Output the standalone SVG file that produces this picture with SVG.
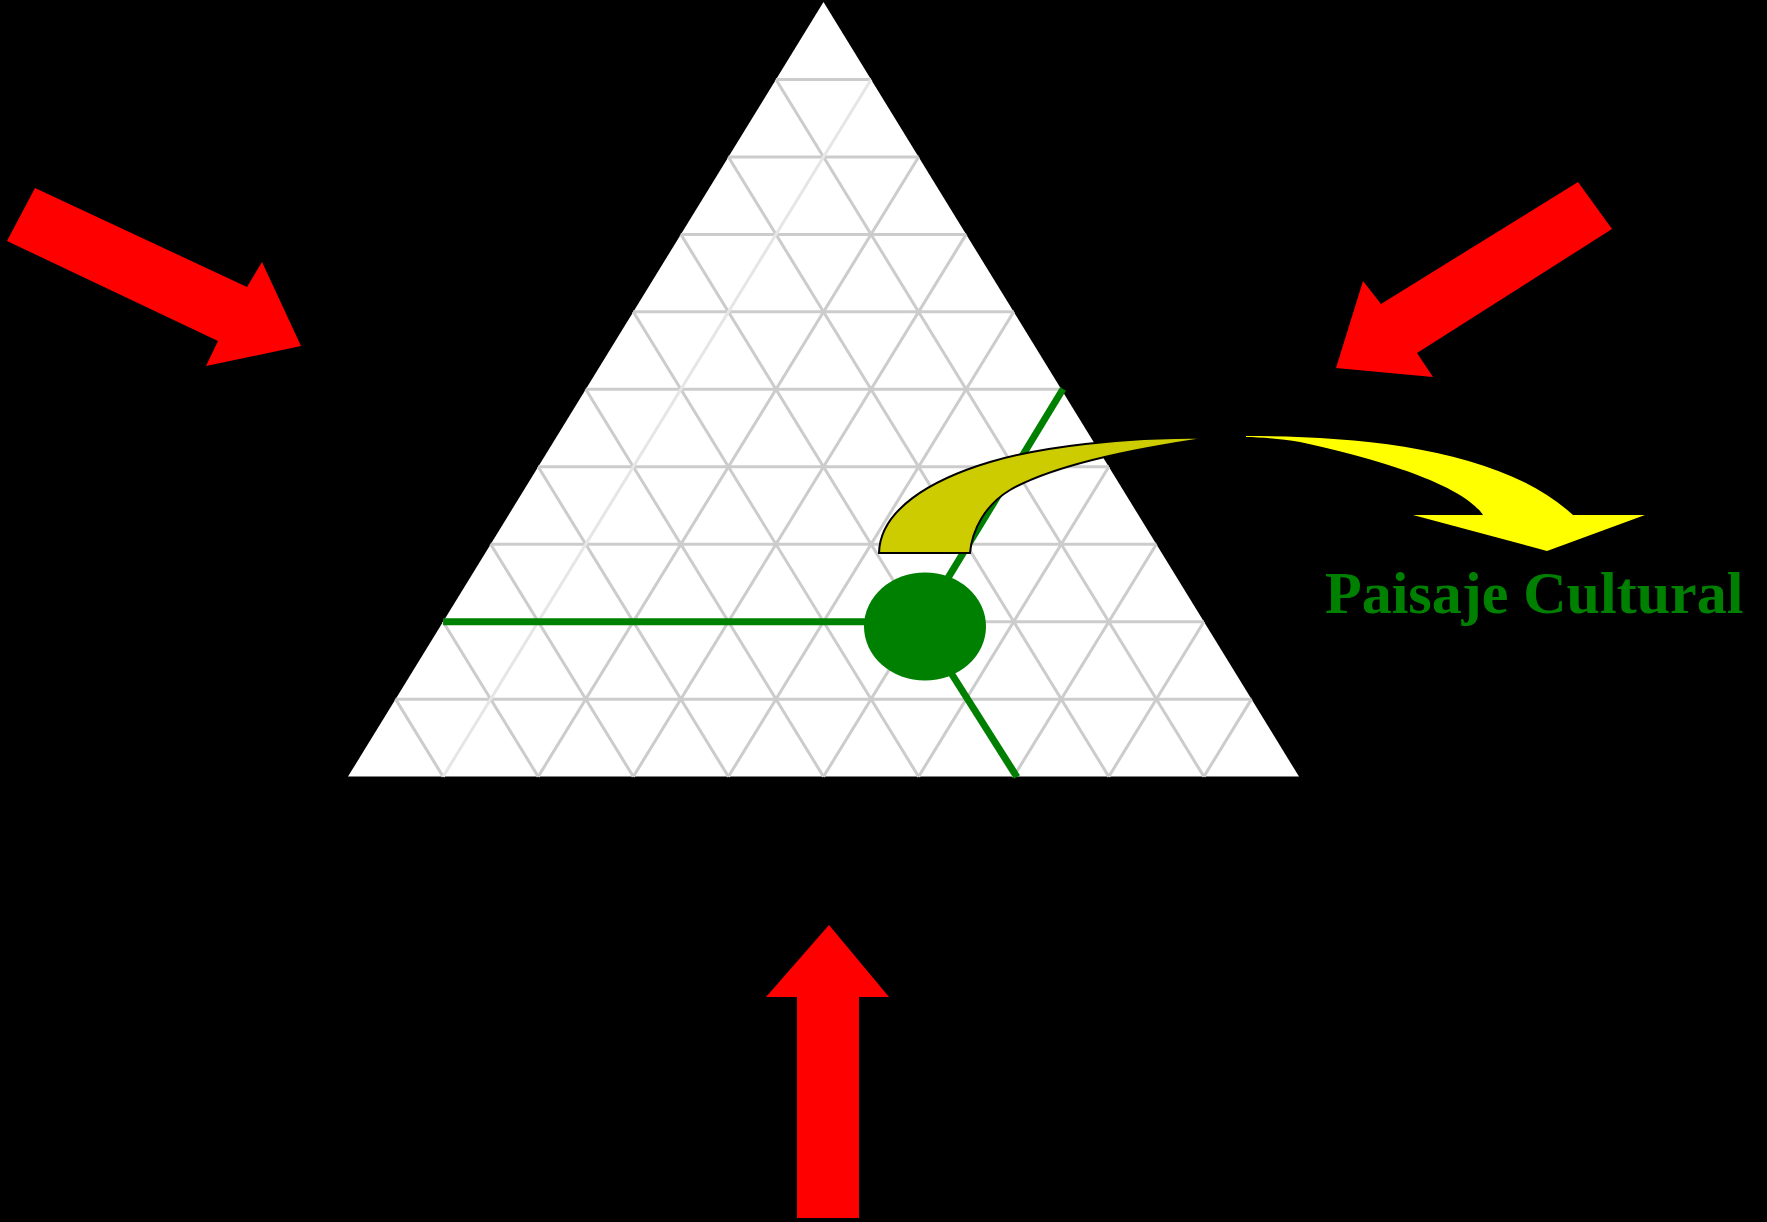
<svg xmlns="http://www.w3.org/2000/svg" width="1767" height="1222" viewBox="0 0 1767 1222">
<style>
.grid{stroke:#cccccc;stroke-width:3;fill:none}
.grid2{stroke:#e6e6e6;stroke-width:3;fill:none}
.red{fill:#ff0000}
.gline{stroke:#008000;stroke-width:7;fill:none}
.label{font-family:"Liberation Serif","Times New Roman",serif;font-weight:bold;font-size:60px;fill:#008000}
</style>
<rect x="0" y="0" width="1767" height="1222" fill="#000000"/>
<g id="triangle">
<polygon points="823.5,2 1299,776.6 348,776.6" fill="#ffffff"/>
<g class="grid">
<line x1="775.95" y1="79.46" x2="871.05" y2="79.46"/>
<line x1="728.4" y1="156.92" x2="918.6" y2="156.92"/>
<line x1="680.85" y1="234.38" x2="966.15" y2="234.38"/>
<line x1="633.3" y1="311.84" x2="1013.7" y2="311.84"/>
<line x1="585.75" y1="389.3" x2="1061.25" y2="389.3"/>
<line x1="538.2" y1="466.76" x2="1108.8" y2="466.76"/>
<line x1="490.65" y1="544.22" x2="1156.35" y2="544.22"/>
<line x1="443.1" y1="621.68" x2="1203.9" y2="621.68"/>
<line x1="395.55" y1="699.14" x2="1251.45" y2="699.14"/>
<line x1="918.6" y1="156.92" x2="538.2" y2="776.6"/>
<line x1="966.15" y1="234.38" x2="633.3" y2="776.6"/>
<line x1="1013.7" y1="311.84" x2="728.4" y2="776.6"/>
<line x1="1061.25" y1="389.3" x2="823.5" y2="776.6"/>
<line x1="1108.8" y1="466.76" x2="918.6" y2="776.6"/>
<line x1="1156.35" y1="544.22" x2="1013.7" y2="776.6"/>
<line x1="1203.9" y1="621.68" x2="1108.8" y2="776.6"/>
<line x1="1251.45" y1="699.14" x2="1203.9" y2="776.6"/>
<line x1="775.95" y1="79.46" x2="1203.9" y2="776.6"/>
<line x1="728.4" y1="156.92" x2="1108.8" y2="776.6"/>
<line x1="680.85" y1="234.38" x2="1013.7" y2="776.6"/>
<line x1="633.3" y1="311.84" x2="918.6" y2="776.6"/>
<line x1="585.75" y1="389.3" x2="823.5" y2="776.6"/>
<line x1="538.2" y1="466.76" x2="728.4" y2="776.6"/>
<line x1="490.65" y1="544.22" x2="633.3" y2="776.6"/>
<line x1="443.1" y1="621.68" x2="538.2" y2="776.6"/>
<line x1="395.55" y1="699.14" x2="443.1" y2="776.6"/>
</g>
<line class="grid2" x1="871.05" y1="79.46" x2="443.1" y2="776.6"/>
</g>
<g id="connectors">
<line class="gline" x1="443.1" y1="621.7" x2="925" y2="621.7"/>
<line class="gline" x1="1063" y1="389" x2="920" y2="624"/>
<line class="gline" x1="920" y1="624" x2="1017" y2="777"/>
</g>
<g id="point">
<ellipse cx="925" cy="626.5" rx="61" ry="54" fill="#008000"/>
</g>
<g id="tail">
<path d="M 879,553 L 970,553 C 972,530 985,505 1010,490 C 1045,470 1110,452 1213,437.5 C 1120,437 1040,447 990,462 C 930,480 880,510 879,553 Z" fill="#cccc00" stroke="#000000" stroke-width="2"/>
</g>
<g id="yellow-arrow">
<path d="M 1246,436 C 1360,436 1500,448 1573,515 L 1645,515 L 1547,551 L 1413,515 L 1483,515 C 1470,495 1420,468 1300,442 C 1280,439 1260,437 1246,437 Z" fill="#ffff00"/>
</g>
<g id="arrow-left">
<polygon class="red" points="35,188 7,241 218,341 206,366 301,346 262,262 247,287"/>
</g>
<g id="arrow-right">
<polygon class="red" points="1578,182 1612,229 1417,353 1433,377 1336,368 1363,281 1381,304"/>
</g>
<g id="arrow-bottom">
<polygon class="red" points="829,925 889,997 859,997 859,1218 797,1218 797,997 766,997"/>
</g>
<g id="label">
<text class="label" x="1325" y="613">Paisaje Cultural</text>
</g>
</svg>
